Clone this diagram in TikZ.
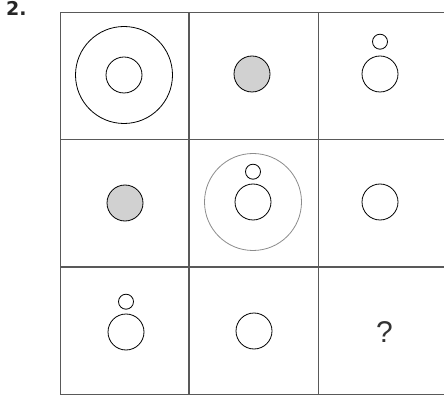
\documentclass[tikz,border=0pt]{standalone}
\usepackage{fontspec}
\setmainfont{Liberation Sans}
\newfontfamily\heavyfont{DejaVu Sans Bold}
\usetikzlibrary{positioning}

\begin{document}
\begin{tikzpicture}[x=1pt, y=-1pt, node distance=4pt, >=latex]
    \tikzstyle{cell}=[rectangle, draw=black!65, line width=0.8pt, minimum width=128.5pt, minimum height=127pt, inner sep=0pt]
    \tikzstyle{ring}=[circle, draw, line width=0.8pt, minimum size=36pt, inner sep=0pt]
    \tikzstyle{dot}=[circle, draw, line width=0.8pt, minimum size=15pt, inner sep=0pt]
    \tikzstyle{halo}=[circle, draw, line width=0.8pt, minimum size=97pt, inner sep=0pt]

    \useasboundingbox (0,0) rectangle (444,395);

    % grid of cells
    \node[cell] (c11) at (124.5,75.5) {};
    \node[cell, right=0pt of c11] (c12) {};
    \node[cell, right=0pt of c12] (c13) {};
    \node[cell, below=0pt of c11] (c21) {};
    \node[cell, right=0pt of c21] (c22) {};
    \node[cell, right=0pt of c22] (c23) {};
    \node[cell, below=0pt of c21] (c31) {};
    \node[cell, right=0pt of c31] (c32) {};
    \node[cell, right=0pt of c32] (c33) {};

    \node[anchor=north west, inner sep=0pt, font=\heavyfont\fontsize{19}{19}\selectfont, text=black!85] (num) at (6,1) {2.};

    % row 1
    \node[halo] (big11) at (124,75) {};
    \node[ring] (in11) at (big11) {};
    \node[ring, fill=black!18] (fill12) at (252,74) {};
    \node[ring] (low13) at (380,74) {};
    \node[dot, above=6pt of low13] (top13) {};

    % row 2
    \node[ring, fill=black!18] (fill21) at (125,203) {};
    \node[halo, draw=black!45] (big22) at (253,202) {};
    \node[ring] (low22) at (big22) {};
    \node[dot, above=of low22] (top22) {};
    \node[ring] (one23) at (380,202) {};

    % row 3
    \node[ring] (low31) at (126,332) {};
    \node[dot, above=of low31] (top31) {};
    \node[ring] (one32) at (254,331) {};
    \node[font=\fontsize{30}{30}\selectfont, text=black!80] (ask) at (384.5,332) {?};
\end{tikzpicture}
\end{document}
